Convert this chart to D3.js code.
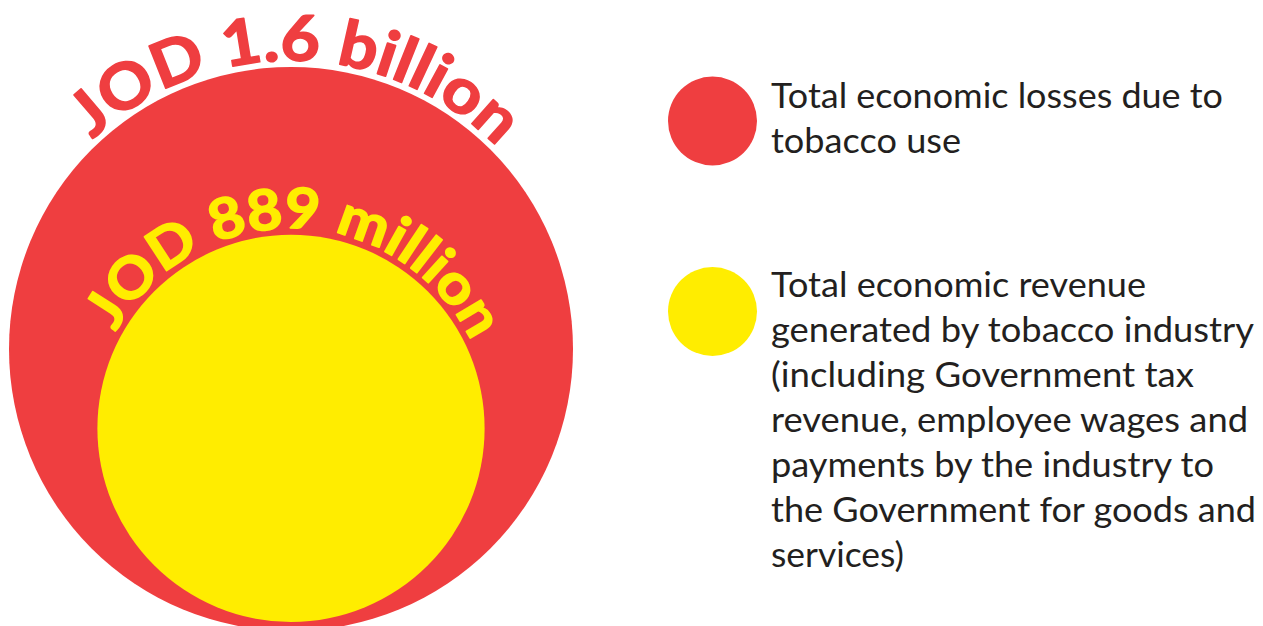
<!DOCTYPE html>
<html><head><meta charset="utf-8">
<script src="https://cdn.jsdelivr.net/npm/d3@7"></script>
<style>
html,body{margin:0;padding:0;background:#fff;}
svg{display:block;}
</style></head>
<body>
<script>
// ---- data ----
const seriesKeys = ["losses", "revenue"];
const valuesMillionJOD = [1600, 889];
const arcLabels = ["JOD 1.6 billion", "JOD 889 million"];
const legendLines = [
  ["Total economic losses due to", "tobacco use"],
  ["Total economic revenue", "generated by tobacco industry", "(including Government tax",
   "revenue, employee wages and", "payments by the industry to",
   "the Government for goods and", "services)"]
];
const colors = ["#EF3E40", "#FFED00"];

// ---- layout ----
const W = 1263, H = 626;
const svg = d3.select("body").append("svg").attr("width", W).attr("height", H);

const rScale = d3.scalePow().exponent(0.64).domain([0, 1600]).range([0, 282]);
const cx = 291;
const bottoms = [631, 622];
const circles = valuesMillionJOD.map((v, i) => {
  const r = rScale(v);
  return {key: seriesKeys[i], r, cx, cy: bottoms[i] - r, color: colors[i], label: arcLabels[i]};
});

const defs = svg.append("defs");
const arcCfg = [
  {gap: 6.5, size: 63, len: 448, shift: 1.0},
  {gap: 6.5, size: 56, len: 438, shift: 1.5}
];

circles.forEach((c, i) => {
  svg.append("circle").attr("cx", c.cx).attr("cy", c.cy).attr("r", c.r).attr("fill", c.color);
});

circles.forEach((c, i) => {
  const cfg = arcCfg[i];
  const R = c.r + cfg.gap;
  const path = d3.path();
  path.arc(c.cx, c.cy, R, Math.PI, 2 * Math.PI, false);
  defs.append("path").attr("id", "arc" + i).attr("d", path.toString());
  const halfLen = Math.PI * R / 2;
  const offset = halfLen + cfg.shift * Math.PI / 180 * R;
  svg.append("text")
    .attr("font-family", "Lato, 'Open Sans', sans-serif")
    .attr("font-weight", 700)
    .attr("font-size", cfg.size)
    .attr("fill", c.color)
    .attr("stroke", c.color)
    .attr("stroke-width", 1.6)
    .attr("stroke-linejoin", "round")
    .append("textPath")
    .attr("href", "#arc" + i)
    .attr("startOffset", offset)
    .attr("text-anchor", "middle")
    .attr("textLength", cfg.len)
    .attr("lengthAdjust", "spacingAndGlyphs")
    .text(c.label);
});

// ---- legend ----
const legendY = [121, 311.5];
const firstBaseline = [108, 296.7];
const lineH = 45;
const lineWidths = [[452, 190], [375, 483, 423, 477, 443, 485, 133]];
const leg = svg.append("g");
legendLines.forEach((lines, i) => {
  leg.append("circle").attr("cx", 712.5).attr("cy", legendY[i]).attr("r", 44.5).attr("fill", colors[i]);
  lines.forEach((t, j) => {
    leg.append("text")
      .attr("x", 771)
      .attr("y", firstBaseline[i] + j * lineH)
      .attr("font-family", "Lato, 'Open Sans', sans-serif")
      .attr("font-size", 34.5)
      .attr("fill", "#231F20")
      .attr("textLength", lineWidths[i][j])
      .attr("lengthAdjust", "spacingAndGlyphs")
      .text(t);
  });
});
</script>
</body></html>
